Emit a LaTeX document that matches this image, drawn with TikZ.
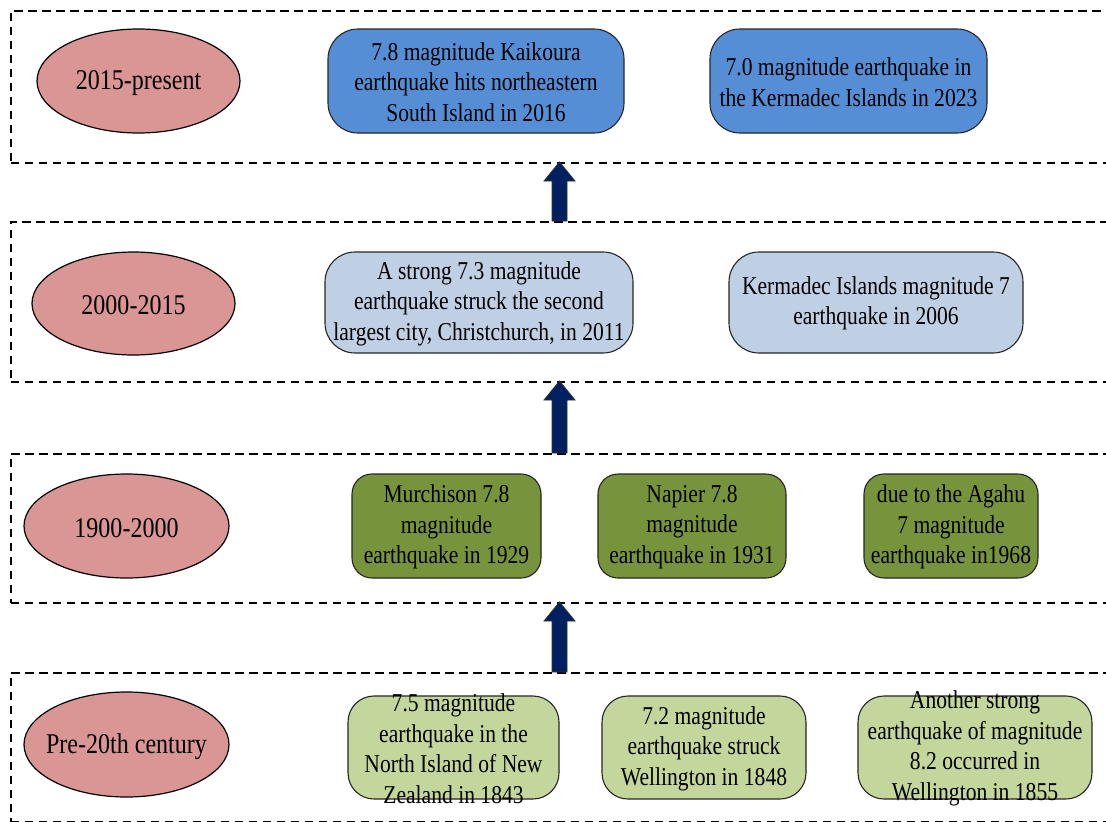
\documentclass[tikz,border=0pt]{standalone}
\usepackage{fontspec}
\setmainfont[FakeStretch=0.84]{Liberation Serif}
\usetikzlibrary{calc}
\definecolor{ellfill}{HTML}{D99694}
\definecolor{bluebox}{HTML}{558ED5}
\definecolor{lbluebox}{HTML}{C0D0E4}
\definecolor{olivebox}{HTML}{77933C}
\definecolor{lgreenbox}{HTML}{C3D69B}
\definecolor{navyarr}{HTML}{002060}
\tikzset{
  band/.style={draw=black, line width=1.5pt, dash pattern=on 8.5pt off 5.5pt, anchor=north west, inner sep=0pt},
  period/.style={ellipse, draw=black, line width=1.2pt, fill=ellfill, inner sep=0pt},
  periodtext/.style={inner sep=0pt, yshift=-2pt, font=\fontsize{28.6}{33}\selectfont},
  evbox/.style={draw=black!85, line width=1.1pt, rounded corners=26pt, inner sep=0pt},
  evtext/.style={align=center, inner sep=0pt, yshift=-1pt, font=\fontsize{25.7}{30.5}\selectfont},
  bigarrow/.style={draw=black!80, line width=0.8pt, fill=navyarr, line join=miter}
}
\usetikzlibrary{shapes.geometric}
\newcommand{\uparrowfrom}[2]{%
  \draw[bigarrow] ($(#1)+(-7.5,0)$) -- ($(#2)+(-7.5,19)$) -- ($(#2)+(-15.5,19)$) -- (#2)
    -- ($(#2)+(15.5,19)$) -- ($(#2)+(7.5,19)$) -- ($(#1)+(7.5,0)$) -- cycle;}
\begin{document}
\begin{tikzpicture}[x=1pt,y=-1pt]
\clip (0,0) rectangle (1106,822);
\fill[white] (0,0) rectangle (1106,822);
% bands
\node[band, minimum width=1120pt, minimum height=152pt] (p1) at (10,10) {};
\node[band, minimum width=1120pt, minimum height=160pt] (p2) at (10,221) {};
\node[band, minimum width=1120pt, minimum height=149pt] (p3) at (10,453) {};
\node[band, minimum width=1120pt, minimum height=149pt] (p4) at (10,672) {};
% period ellipses
\node[period, minimum width=203pt, minimum height=104pt] (e1) at (138.5,81) {};
\node[periodtext] (te1) at (e1) {2015-present};
\node[period, minimum width=203pt, minimum height=103pt] (e2) at (133.5,303.5) {};
\node[periodtext] (te2) at (e2) {2000-2015};
\node[period, minimum width=205pt, minimum height=104pt] (e3) at (126.5,526) {};
\node[periodtext] (te3) at (e3) {1900-2000};
\node[period, minimum width=205pt, minimum height=105pt] (e4) at (126.5,744.5) {};
\node[periodtext] (te4) at (e4) {Pre-20th century};
% row 1
\node[evbox, fill=bluebox, rounded corners=30pt, minimum width=296pt, minimum height=104pt] (b1a) at (476,81) {};
\node[evtext] (t1a) at (b1a) {7.8 magnitude Kaikoura\\earthquake hits northeastern\\South Island in 2016};
\node[evbox, fill=bluebox, rounded corners=30pt, minimum width=277pt, minimum height=104pt] (b1b) at (848.5,81) {};
\node[evtext] (t1b) at (b1b) {7.0 magnitude earthquake in\\the Kermadec Islands in 2023};
% row 2
\node[evbox, fill=lbluebox, rounded corners=30pt, minimum width=308pt, minimum height=101pt] (b2a) at (479,302.5) {};
\node[evtext] (t2a) at (b2a) {A strong 7.3 magnitude\\earthquake struck the second\\largest city, Christchurch, in 2011};
\node[evbox, fill=lbluebox, rounded corners=30pt, minimum width=294pt, minimum height=101pt] (b2b) at (876,302.5) {};
\node[evtext] (t2b) at (b2b) {Kermadec Islands magnitude 7\\earthquake in 2006};
% row 3
\node[evbox, fill=olivebox, rounded corners=20pt, minimum width=189pt, minimum height=104pt] (b3a) at (446.5,526) {};
\node[evtext] (t3a) at (b3a) {Murchison 7.8\\magnitude\\earthquake in 1929};
\node[evbox, fill=olivebox, rounded corners=20pt, minimum width=188pt, minimum height=104pt] (b3b) at (692,526) {};
\node[evtext] (t3b) at (b3b) {Napier 7.8\\magnitude\\earthquake in 1931};
\node[evbox, fill=olivebox, rounded corners=20pt, minimum width=174pt, minimum height=104pt] (b3c) at (951,526) {};
\node[evtext] (t3c) at (b3c) {due to the Agahu\\7 magnitude\\earthquake in1968};
% row 4
\node[evbox, fill=lgreenbox, minimum width=211pt, minimum height=103pt] (b4a) at (453.5,747.5) {};
\node[evtext] (t4a) at (b4a) {7.5 magnitude\\earthquake in the\\North Island of New\\Zealand in 1843};
\node[evbox, fill=lgreenbox, minimum width=204pt, minimum height=103pt] (b4b) at (704,747.5) {};
\node[evtext] (t4b) at (b4b) {7.2 magnitude\\earthquake struck\\Wellington in 1848};
\node[evbox, fill=lgreenbox, minimum width=234pt, minimum height=103pt] (b4c) at (975,747.5) {};
\node[evtext] (t4c) at (b4c) {Another strong\\earthquake of magnitude\\8.2 occurred in\\Wellington in 1855};
% arrows between bands
\coordinate (a1t) at (559.5,221);
\coordinate (a1h) at (559.5,162);
\coordinate (a2t) at (559.5,453);
\coordinate (a2h) at (559.5,381);
\coordinate (a3t) at (559.5,672);
\coordinate (a3h) at (559.5,602);
\uparrowfrom{a1t}{a1h}
\uparrowfrom{a2t}{a2h}
\uparrowfrom{a3t}{a3h}
\end{tikzpicture}
\end{document}
